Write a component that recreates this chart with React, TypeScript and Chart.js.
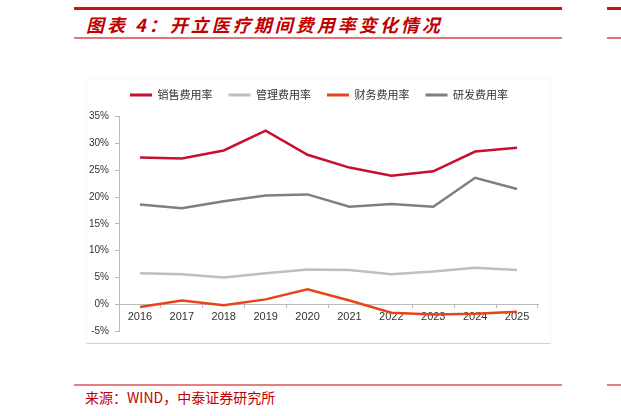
import React, { useEffect, useRef } from "react";
import { Chart, registerables } from "chart.js";

Chart.register(...registerables);

const years = ["2016", "2017", "2018", "2019", "2020", "2021", "2022", "2023", "2024", "2025"];
const salesRate = [27.4, 27.2, 28.7, 32.4, 27.9, 25.5, 24.0, 24.8, 28.5, 29.2];
const adminRate = [5.8, 5.6, 5.0, 5.8, 6.5, 6.4, 5.6, 6.1, 6.8, 6.4];
const financeRate = [-0.5, 0.7, -0.2, 0.9, 2.8, 0.7, -1.6, -1.9, -1.8, -1.4];
const rdRate = [18.6, 17.9, 19.2, 20.3, 20.5, 18.2, 18.7, 18.2, 23.6, 21.5];
const seriesNames = ["销售费用率", "管理费用率", "财务费用率", "研发费用率"];
const seriesColors = ["#C8102E", "#BFBFBF", "#E8441A", "#7F7F7F"];
const yMin = -5;
const yMax = 35;
const yStep = 5;

const titleText = "图表 4：开立医疗期间费用率变化情况";
const sourceText = "来源：WIND，中泰证券研究所";

export default function App() {
  const canvasRef = useRef<HTMLCanvasElement | null>(null);

  useEffect(() => {
    if (!canvasRef.current) return;
    const values = [salesRate, adminRate, financeRate, rdRate];
    const chart = new Chart(canvasRef.current, {
      type: "line",
      data: {
        labels: years,
        datasets: values.map((v, i) => ({
          label: seriesNames[i],
          data: v,
          borderColor: seriesColors[i],
          backgroundColor: seriesColors[i],
          borderWidth: 2.5,
          pointRadius: 0,
          tension: 0,
          fill: false,
        })),
      },
      options: {
        animation: false,
        responsive: false,
        maintainAspectRatio: false,
        layout: { padding: { top: 0.5, left: 0, right: 0, bottom: 11.3 } },
        plugins: {
          legend: {
            position: "top",
            labels: {
              boxWidth: 22,
              boxHeight: 3,
              padding: 16,
              color: "#333",
              font: { size: 11, family: "'Noto Sans CJK SC', sans-serif" },
              generateLabels: (c: any) =>
                Chart.defaults.plugins.legend.labels
                  .generateLabels(c)
                  .map((l: any) => ({ ...l, lineWidth: 0, fillStyle: l.strokeStyle })),
            },
          },
          title: {
            display: true,
            text: "",
            position: "top",
            weight: 500,
            font: { size: 1 },
            padding: { top: 0, bottom: 5 },
          } as any,
          subtitle: {
            display: true,
            text: "",
            position: "right",
            fullSize: false,
            font: { size: 1 },
            padding: { top: 12.8, bottom: 0 },
          } as any,
          tooltip: { enabled: false },
        },
        scales: {
          x: {
            position: { y: 0 } as any,
            offset: true,
            grid: {
              offset: true,
              drawOnChartArea: false,
              drawTicks: true,
              tickLength: 3,
              color: "#BBBBBB",
            },
            border: { color: "#BBBBBB", width: 1 },
            ticks: {
              color: "#333",
              padding: 3,
              font: { size: 11, family: "'Liberation Sans', Arial, sans-serif" },
              maxRotation: 0,
            },
          },
          y: {
            min: yMin,
            max: yMax,
            afterFit: (scale: any) => {
              scale.width = 33;
            },
            grid: {
              drawOnChartArea: false,
              drawTicks: true,
              tickLength: 4,
              color: "#BBBBBB",
            },
            border: { color: "#BBBBBB", width: 1 },
            ticks: {
              stepSize: yStep,
              color: "#333",
              padding: 6,
              font: { size: 10, family: "'Liberation Sans', Arial, sans-serif" },
              callback: (v: any) => `${v}%`,
            },
          },
        },
      },
    });
    return () => chart.destroy();
  }, []);

  return (
    <div
      style={{
        position: "fixed",
        left: 0,
        top: 0,
        width: 621,
        height: 416,
        background: "#fff",
        overflow: "hidden",
      }}
    >
      <div style={{ position: "absolute", left: 74, top: 7, width: 488, height: 3, background: "#C81414" }} />
      <div style={{ position: "absolute", left: 607, top: 7, width: 14, height: 3, background: "#C81414" }} />
      <div
        style={{
          position: "absolute",
          left: 86,
          top: 11,
          fontFamily: "'Noto Sans CJK SC', sans-serif",
          fontSize: 18,
          fontWeight: 700,
          fontStyle: "italic",
          letterSpacing: 3,
          color: "#C00000",
          whiteSpace: "nowrap",
          lineHeight: "26px",
        }}
      >
        {titleText}
      </div>
      <div style={{ position: "absolute", left: 74, top: 37, width: 488, height: 2, background: "#E07777" }} />
      <div style={{ position: "absolute", left: 607, top: 37, width: 14, height: 2, background: "#E07777" }} />

      <div
        style={{
          position: "absolute",
          left: 86,
          top: 78,
          width: 463,
          height: 264,
          borderTop: "1px solid #F7F7F7",
          borderLeft: "1px solid #F7F7F7",
          borderRight: "1px solid #F7F7F7",
          borderBottom: "1px solid #D0D0D0",
        }}
      />
      <div style={{ position: "absolute", left: 86, top: 73, width: 466, height: 270 }}>
        <canvas ref={canvasRef} width={466} height={270} style={{ width: 466, height: 270, display: "block" }} />
      </div>

      <div style={{ position: "absolute", left: 74, top: 384, width: 488, height: 2, background: "#E38080" }} />
      <div style={{ position: "absolute", left: 607, top: 384, width: 14, height: 2, background: "#E38080" }} />
      <div
        style={{
          position: "absolute",
          left: 85,
          top: 387,
          fontFamily: "'Noto Sans CJK SC', sans-serif",
          fontSize: 14,
          color: "#C00000",
          whiteSpace: "nowrap",
          lineHeight: "20px",
        }}
      >
        {sourceText}
      </div>
    </div>
  );
}
